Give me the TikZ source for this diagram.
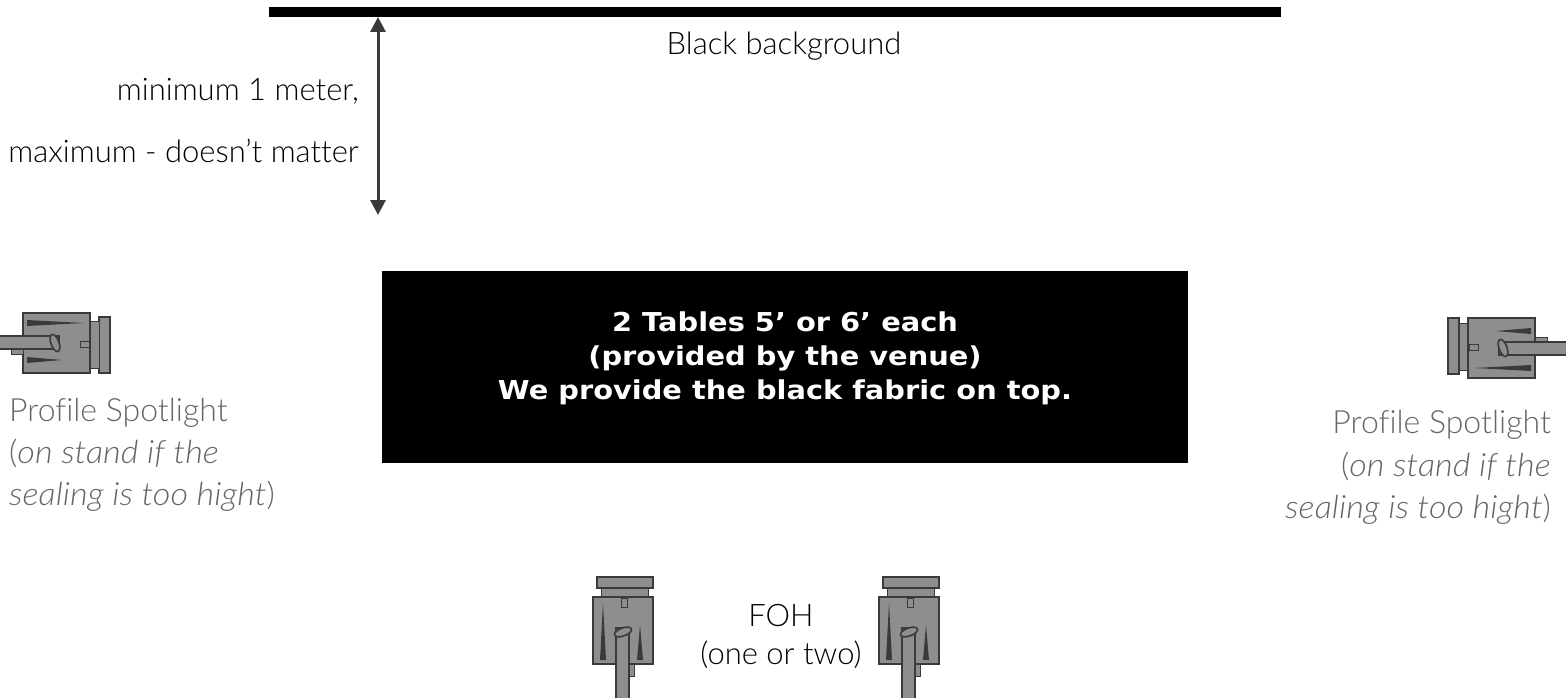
\documentclass[tikz,border=0pt]{standalone}
\usepackage{fontspec}
\setmainfont{Lato Light}[Ligatures=NoCommon, ItalicFont={Lato Light Italic}, ItalicFeatures={FakeStretch=1.07}]
\newfontfamily\tablefont{DejaVu Sans}[BoldFeatures={FakeStretch=1.11}]
\usetikzlibrary{arrows.meta}
\definecolor{spotgray}{HTML}{666666}
\definecolor{spotdark}{HTML}{3A3A3A}
\definecolor{spotfill}{HTML}{8E8E8E}
\tikzset{
  plaintext/.style={inner sep=0pt, font=\fontsize{31}{38}\selectfont, text=black},
  spottext/.style={inner sep=0pt, font=\fontsize{32}{42}\selectfont, text=spotgray},
  blackbox/.style={fill=black, draw=none, inner sep=0pt},
  spotline/.style={draw=spotdark, fill=spotfill, line width=1.6pt},
  pics/spotlight/.style={code={
    \path[spotline] (-27,-53) rectangle (29,-42);
    \path[spotline, line width=1pt] (-23,-42) rectangle (24,-33);
    \path[spotline] (-31,-33) rectangle (29,34);
    \fill[spotdark] (-21,-27) -- (-18,30) -- (-24,30) -- cycle;
    \fill[spotdark] (16,-5) -- (19,30) -- (13,30) -- cycle;
    \path[spotline, line width=1pt] (-3,-32) rectangle (3,-23);
    \path[spotline, line width=1pt] (4,34) rectangle (10,46);
    \path[spotline] (-8,-2) rectangle (5,70);
    \path[spotline, rotate around={20:(-1,2)}] (-1,2) ellipse (9 and 4);
  }}
}
\begin{document}
\begin{tikzpicture}[x=1pt, y=-1pt]
\clip (0,0) rectangle (1566,698);
% background bar and tables
\node[blackbox, minimum width=1012pt, minimum height=10pt] (backdrop) at (775,12) {};
\node[blackbox, minimum width=806pt, minimum height=192pt] (tables) at (785,367) {};
\node[align=center, text=white, inner sep=0pt,
  font=\tablefont\bfseries\fontsize{26}{34}\selectfont] (tablelabel) at (785,358)
  {2 Tables 5’ or 6’ each\\(provided by the venue)\\We provide the black fabric on top.};
\node[plaintext, anchor=base] (backlabel) at (784,55) {Black background};
% distance arrow
\coordinate (disttop) at (378,17);
\coordinate (distbot) at (378,215);
\draw[{Triangle[length=15pt,width=15pt]}-{Triangle[length=15pt,width=15pt]}, line width=3pt, spotdark] (disttop) -- (distbot);
\node[plaintext, anchor=base east] (distmin) at (359,101) {minimum 1 meter,};
\node[plaintext, anchor=base east] (distmax) at (359,163) {maximum - doesn’t matter};
% side lights
\pic[rotate=-90] at (57,344) {spotlight};
\pic[rotate=90] at (1501,347) {spotlight};
\node[spottext, anchor=base west] (leftlabel) at (9,421) {Profile Spotlight};
\node[spottext, anchor=base west] (leftlabelb) at (9,463) {(\textit{on stand if the}};
\node[spottext, anchor=base west] (leftlabelc) at (9,505) {\textit{sealing is too hight})};
\node[spottext, anchor=base east] (rightlabel) at (1551,433) {Profile Spotlight};
\node[spottext, anchor=base east] (rightlabelb) at (1551,476) {(\textit{on stand if the}};
\node[spottext, anchor=base east] (rightlabelc) at (1551,518) {\textit{sealing is too hight})};
% front lights
\pic at (624,630) {spotlight};
\pic at (910,630) {spotlight};
\node[plaintext, anchor=base] (foh) at (781,626) {FOH};
\node[plaintext, anchor=base] (fohb) at (781,664) {(one or two)};
\end{tikzpicture}
\end{document}
